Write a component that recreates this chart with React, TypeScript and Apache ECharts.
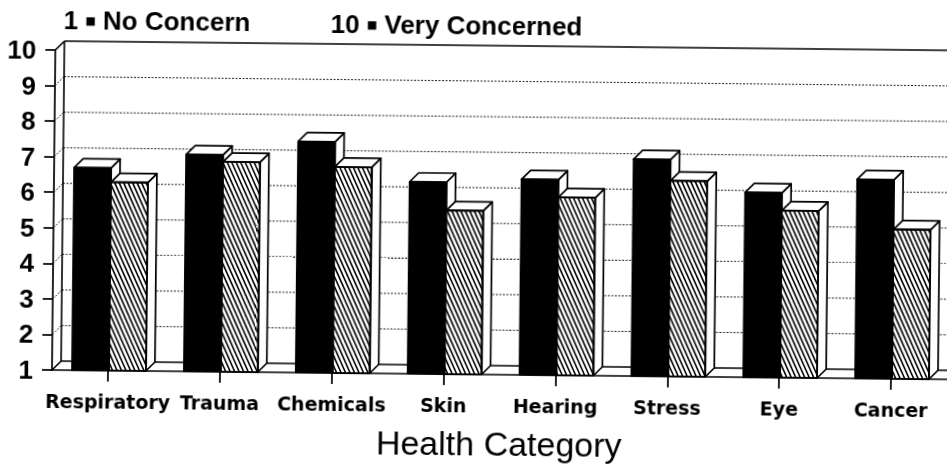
import React, { useEffect, useRef } from "react";
import * as echarts from "echarts";

const categories = ["Respiratory", "Trauma", "Chemicals", "Skin", "Hearing", "Stress", "Eye", "Cancer"];
const solidValues = [6.7, 7.1, 7.5, 6.4, 6.5, 7.1, 6.2, 6.6];
const hatchedValues = [6.3, 6.9, 6.8, 5.6, 6.0, 6.5, 5.7, 5.2];
const yMin = 1;
const yMax = 10;
const gridLevels = [2, 3, 4, 5, 6, 7, 8, 9];
const titleLeft = "1";
const titleLeftText = "No Concern";
const titleRight = "10";
const titleRightText = "Very Concerned";
const axisTitle = "Health Category";

const DX = 9;
const DY = 9;
const HATCH_SLOPE = 2.2;
const HATCH_GAP = 4.5;

function barRenderer(kind: "solid" | "hatch") {
  return (params: any, api: any) => {
    const i = api.value(0);
    const v = api.value(1);
    const top = api.coord([i, v]);
    const base = api.coord([i, yMin]);
    const band = api.size([1, 0])[0];
    const w = band * 0.33;
    const c = top[0];
    const x0 = kind === "solid" ? c - w + 1 : c + 1;
    const x1 = x0 + w;
    const yt = top[1];
    const yb = base[1];
    const edge = { stroke: "#000", lineWidth: 1.7, lineJoin: "round" };
    const children: any[] = [
      {
        type: "polygon",
        shape: { points: [[x1, yt], [x1 + DX, yt - DY], [x1 + DX, yb - DY], [x1, yb]] },
        style: { fill: "#fff", ...edge },
      },
      {
        type: "polygon",
        shape: { points: [[x0, yt], [x0 + DX, yt - DY], [x1 + DX, yt - DY], [x1, yt]] },
        style: { fill: "#fff", ...edge },
      },
      {
        type: "rect",
        shape: { x: x0, y: yt, width: w, height: yb - yt },
        style: { fill: kind === "solid" ? "#000" : "#fff", ...edge },
      },
    ];
    if (kind === "hatch") {
      const H = yb - yt;
      const kStart = Math.floor((x0 - H / HATCH_SLOPE) / HATCH_GAP) * HATCH_GAP;
      for (let k = kStart; k < x1; k += HATCH_GAP) {
        const ya = yt + (x0 - k) * HATCH_SLOPE;
        const yz = yt + (x1 - k) * HATCH_SLOPE;
        const y1 = Math.max(yt, ya);
        const y2 = Math.min(yb, yz);
        if (y2 - y1 < 0.5) continue;
        children.push({
          type: "line",
          shape: {
            x1: k + (y1 - yt) / HATCH_SLOPE,
            y1,
            x2: k + (y2 - yt) / HATCH_SLOPE,
            y2,
          },
          style: { stroke: "#000", lineWidth: 1.6 },
        });
      }
      children.push({
        type: "rect",
        shape: { x: x0, y: yt, width: w, height: yb - yt },
        style: { fill: "none", ...edge },
      });
    }
    return { type: "group", children };
  };
}

function wallRenderer(params: any, api: any) {
  const cs = params.coordSys;
  const left = cs.x;
  const right = cs.x + cs.width;
  const bx = left + DX;
  const yTop = api.coord([0, yMax])[1];
  const yBot = api.coord([0, yMin])[1];
  const solid = { stroke: "#000", lineWidth: 1.6 };
  const dotted = { stroke: "#222", lineWidth: 1, lineDash: [2, 1.5] };
  const children: any[] = [];
  gridLevels.forEach((v) => {
    const y = api.coord([0, v])[1];
    children.push({ type: "line", shape: { x1: bx, y1: y - DY, x2: right, y2: y - DY }, style: dotted });
    children.push({ type: "line", shape: { x1: left, y1: y, x2: bx, y2: y - DY }, style: dotted });
  });
  children.push({ type: "line", shape: { x1: left, y1: yTop, x2: bx, y2: yTop - DY }, style: solid });
  children.push({ type: "line", shape: { x1: bx, y1: yTop - DY, x2: right, y2: yTop - DY }, style: solid });
  children.push({ type: "line", shape: { x1: left, y1: yBot, x2: bx, y2: yBot - DY }, style: solid });
  children.push({ type: "line", shape: { x1: bx, y1: yBot - DY, x2: right, y2: yBot - DY }, style: solid });
  children.push({ type: "line", shape: { x1: bx, y1: yTop - DY, x2: bx, y2: yBot - DY }, style: solid });
  return { type: "group", children };
}

export default function App() {
  const ref = useRef<HTMLDivElement>(null);
  useEffect(() => {
    if (!ref.current) return;
    const chart = echarts.init(ref.current, null, { renderer: "svg" });
    const titleStyle = {
      fontFamily: "Liberation Sans",
      fontWeight: "bold",
      fontSize: 26,
      fill: "#000",
      verticalAlign: "middle",
      align: "left",
      rich: { b: { fontSize: 11, fontFamily: "DejaVu Sans", fill: "#000" } },
    };
    chart.setOption({
      animation: false,
      backgroundColor: "#fff",
      grid: { left: 52, right: 0, top: 50, bottom: 99, containLabel: false },
      xAxis: {
        type: "category",
        data: categories,
        axisLine: { show: true, lineStyle: { color: "#000", width: 1.7 } },
        axisTick: { show: true, alignWithLabel: true, length: 11, lineStyle: { color: "#000", width: 1.7 } },
        axisLabel: {
          color: "#000",
          fontFamily: "DejaVu Sans",
          fontWeight: "bold",
          fontSize: 19,
          margin: 21,
          interval: 0,
        },
        splitLine: { show: false },
        name: axisTitle,
        nameLocation: "middle",
        nameGap: 52,
        nameTextStyle: { color: "#000", fontFamily: "Liberation Sans", fontSize: 34 },
      },
      yAxis: {
        type: "value",
        min: yMin,
        max: yMax,
        interval: 1,
        axisLine: { show: true, lineStyle: { color: "#000", width: 1.7 } },
        axisTick: { show: true, length: 10, lineStyle: { color: "#000", width: 1.7 } },
        axisLabel: {
          color: "#000",
          fontFamily: "Liberation Sans",
          fontWeight: "bold",
          fontSize: 26,
          margin: 19,
        },
        splitLine: { show: false },
      },
      graphic: [
        { type: "text", x: 60, y: 20, style: { ...titleStyle, text: `${titleLeft} {b|■} ${titleLeftText}` } },
        { type: "text", x: 327, y: 21, style: { ...titleStyle, text: `${titleRight} {b|■} ${titleRightText}` } },
      ],
      series: [
        { type: "custom", name: "wall", data: [[0, yMin]], renderItem: wallRenderer, clip: false, z: 1, silent: true },
        {
          type: "custom",
          name: "solid",
          data: solidValues.map((v, i) => [i, v]),
          renderItem: barRenderer("solid"),
          clip: false,
          z: 2,
        },
        {
          type: "custom",
          name: "hatched",
          data: hatchedValues.map((v, i) => [i, v]),
          renderItem: barRenderer("hatch"),
          clip: false,
          z: 3,
        },
      ],
    });
    return () => chart.dispose();
  }, []);
  return (
    <div
      ref={ref}
      style={{
        position: "fixed",
        left: 0,
        top: 0,
        width: 947,
        height: 469,
        transform: "rotate(0.6deg)",
        transformOrigin: "52px 370px",
      }}
    />
  );
}
